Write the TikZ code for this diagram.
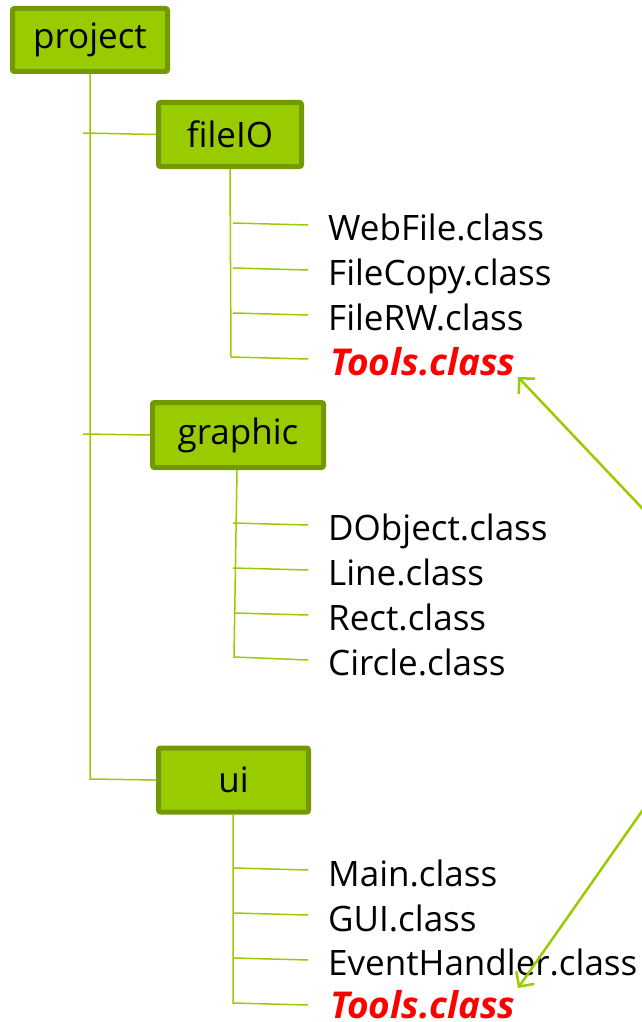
\documentclass[tikz,border=0pt]{standalone}
\usepackage{fontspec}
\setmainfont{Open Sans}
\usetikzlibrary{arrows.meta}
\definecolor{lgreen}{HTML}{99CC00}
\definecolor{dgreen}{HTML}{739900}
\definecolor{tred}{HTML}{FF0000}
\begin{document}
\begin{tikzpicture}[x=1pt,y=-1pt,
  box/.style={draw=dgreen,fill=lgreen,line width=5pt,rounded corners=2pt,inner sep=0pt,
    font=\fontsize{35}{42}\selectfont},
  item/.style={anchor=base west,inner sep=0pt,font=\fontsize{35}{42}\selectfont},
  hot/.style={item,text=tred,font=\fontsize{37}{42}\selectfont\bfseries\itshape},
  conn/.style={draw=lgreen,line width=1.5pt},
  link/.style={draw=lgreen,line width=2.5pt,{Straight Barb[length=11pt,width=22pt]}-{Straight Barb[length=11pt,width=22pt]}}]
\useasboundingbox (0,0) rectangle (641,1022);
% boxes
\node[box,minimum width=155pt,minimum height=63pt] (project) at (90,40) {project};
\node[box,minimum width=143pt,minimum height=64pt] (fileIO) at (230,134.5) {fileIO};
\node[box,minimum width=171pt,minimum height=65pt] (graphic) at (238,435) {graphic};
\node[box,minimum width=150pt,minimum height=64pt] (ui) at (233.5,780) {ui};
% items
\node[item] (f1) at (328,240) {WebFile.class};
\node[item] (f2) at (328,285) {FileCopy.class};
\node[item] (f3) at (328,330) {FileRW.class};
\node[hot] (f4) at (330,375) {Tools.class};
\node[item] (g1) at (328,540) {DObject.class};
\node[item] (g2) at (328,585) {Line.class};
\node[item] (g3) at (328,630) {Rect.class};
\node[item] (g4) at (328,675) {Circle.class};
\node[item] (u1) at (328,886) {Main.class};
\node[item] (u2) at (328,931) {GUI.class};
\node[item] (u3) at (328,975) {EventHandler.class};
\node[hot] (u4) at (330,1018) {Tools.class};
% trunk of project
\coordinate (pt) at (90,74);
\coordinate (pb) at (90,779);
\coordinate (pf) at (83,133);
\coordinate (pg) at (83,434);
\draw[conn] (pt) -- (pb) -- (ui.west);
\draw[conn] (pf) -- (fileIO.west);
\draw[conn] (pg) -- (graphic.west);
% fileIO children
\coordinate (ft) at (230,169);
\coordinate (fb) at (231,357);
\coordinate (fe1) at (308,225);
\coordinate (fe2) at (308,270);
\coordinate (fe3) at (308,315);
\coordinate (fe4) at (308,359);
\coordinate (fs1) at (233,223);
\coordinate (fs2) at (233,268);
\coordinate (fs3) at (233,313);
\draw[conn] (ft) -- (fb) -- (fe4);
\draw[conn] (fs1) -- (fe1);
\draw[conn] (fs2) -- (fe2);
\draw[conn] (fs3) -- (fe3);
% graphic children
\coordinate (gt) at (237,470);
\coordinate (gb) at (234,657);
\coordinate (ge1) at (308,525);
\coordinate (ge2) at (308,570);
\coordinate (ge3) at (308,615);
\coordinate (ge4) at (308,660);
\coordinate (gs1) at (233,523);
\coordinate (gs2) at (233,568);
\coordinate (gs3) at (234,613);
\draw[conn] (gt) -- (gb) -- (ge4);
\draw[conn] (gs1) -- (ge1);
\draw[conn] (gs2) -- (ge2);
\draw[conn] (gs3) -- (ge3);
% ui children
\coordinate (ut) at (233,814);
\coordinate (ub) at (233,1003);
\coordinate (ue1) at (308,870);
\coordinate (ue2) at (308,915);
\coordinate (ue3) at (308,960);
\coordinate (ue4) at (308,1005);
\coordinate (us1) at (234,868);
\coordinate (us2) at (234,913);
\coordinate (us3) at (234,958);
\draw[conn] (ut) -- (ub) -- (ue4);
\draw[conn] (us1) -- (ue1);
\draw[conn] (us2) -- (ue2);
\draw[conn] (us3) -- (ue3);
% link between the two Tools.class
\coordinate (a1) at (518,377);
\coordinate (ac) at (764,637);
\coordinate (a2) at (518,988);
\draw[link] (a1) -- (ac) -- (a2);
\end{tikzpicture}
\end{document}
